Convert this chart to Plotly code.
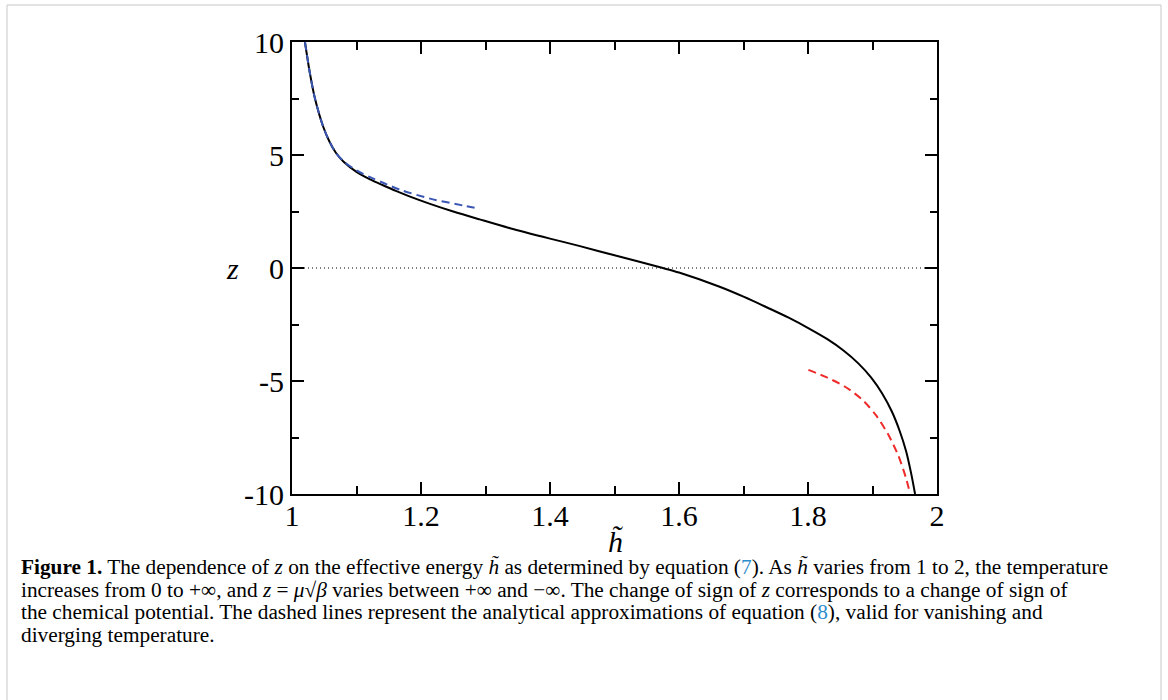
import plotly.graph_objects as go

# ---- data ----
h_exact = [1.0201, 1.0278, 1.0355, 1.0484, 1.058, 1.068, 1.08, 1.10, 1.121, 1.141,
           1.162, 1.182, 1.214, 1.25, 1.291, 1.338, 1.40, 1.445, 1.50, 1.575,
           1.60, 1.662, 1.70, 1.739, 1.77, 1.801, 1.83, 1.855, 1.878, 1.898,
           1.915, 1.93, 1.942, 1.952, 1.96, 1.966]
z_exact = [10.0, 8.61, 7.51, 6.25, 5.60, 5.10, 4.70, 4.25, 3.92, 3.66,
           3.40, 3.17, 2.84, 2.50, 2.15, 1.76, 1.30, 0.98, 0.56, 0.0,
           -0.20, -0.82, -1.27, -1.78, -2.20, -2.67, -3.15, -3.65, -4.22, -4.85,
           -5.55, -6.35, -7.20, -8.10, -9.10, -10.0]

h_low = [1.0201, 1.0278, 1.0355, 1.0484, 1.058, 1.068, 1.08, 1.10, 1.121, 1.142,
         1.167, 1.214, 1.266, 1.2914]
z_low = [10.0, 8.61, 7.51, 6.25, 5.60, 5.10, 4.72, 4.32, 4.02, 3.76,
         3.47, 3.07, 2.76, 2.62]

h_high = [1.8006, 1.83, 1.86, 1.885, 1.905, 1.924, 1.94, 1.952, 1.958]
z_high = [-4.51, -4.85, -5.30, -5.85, -6.50, -7.35, -8.30, -9.30, -9.95]

x_ticks = [1, 1.2, 1.4, 1.6, 1.8, 2]
x_ticktext = ["1", "1.2", "1.4", "1.6", "1.8", "2"]
y_ticks = [-10, -5, 0, 5, 10]
y_ticktext = ["-10", "-5", "0", "5", "10"]

caption_lines = [
    "<b>Figure 1.</b> The dependence of <i>z</i> on the effective energy <i>h̃</i> as determined by equation "
    "(<span style='color:#2b8ccc'>7</span>). As <i>h̃</i> varies from 1 to 2, the temperature",
    "increases from 0 to +∞, and <i>z</i> = <i>μ</i>√<i>β</i> varies between +∞ and −∞. "
    "The change of sign of <i>z</i> corresponds to a change of sign of",
    "the chemical potential. The dashed lines represent the analytical approximations of equation "
    "(<span style='color:#2b8ccc'>8</span>), valid for vanishing and",
    "diverging temperature.",
]

SERIF = "Liberation Serif, Times New Roman, serif"

fig = go.Figure()
fig.add_trace(go.Scatter(x=[1, 2], y=[0, 0], mode="lines",
                         line=dict(color="black", width=1, dash="1px,3px"),
                         hoverinfo="skip", showlegend=False))
fig.add_trace(go.Scatter(x=h_exact, y=z_exact, mode="lines",
                         line=dict(color="black", width=2, shape="spline", smoothing=0.8),
                         showlegend=False))
fig.add_trace(go.Scatter(x=h_low, y=z_low, mode="lines",
                         line=dict(color="#3a56b4", width=2, dash="8px,5px",
                                   shape="spline", smoothing=0.8),
                         showlegend=False))
fig.add_trace(go.Scatter(x=h_high, y=z_high, mode="lines",
                         line=dict(color="#ee2a2a", width=2, dash="8px,5px",
                                   shape="spline", smoothing=0.8),
                         showlegend=False))

L, R, T, B = 292, 937, 42, 494
W, H = 1168, 700
pw, ph = R - L, B - T

def px(x):
    return (x - L) / pw

def py(y):
    return (B - y) / ph

axis_common = dict(showgrid=False, zeroline=False, showline=True, linecolor="black",
                   linewidth=2, mirror="ticks", ticks="inside", ticklen=12,
                   tickwidth=2, tickcolor="black",
                   tickfont=dict(family=SERIF, size=30, color="black"))

fig.update_xaxes(range=[1, 2], tickvals=x_ticks, ticktext=x_ticktext,
                 ticklabelstandoff=-6,
                 minor=dict(dtick=0.1, tick0=1, ticks="inside", ticklen=8,
                            tickwidth=2, tickcolor="black"),
                 **axis_common)
fig.update_yaxes(range=[-10, 10], tickvals=y_ticks, ticktext=y_ticktext,
                 minor=dict(dtick=2.5, tick0=0, ticks="inside", ticklen=7,
                            tickwidth=2, tickcolor="black"),
                 **axis_common)

annotations = [
    dict(text="<i>z</i>", x=px(232), y=py(268), xref="paper", yref="paper",
         showarrow=False, font=dict(family=SERIF, size=30, color="black"),
         xanchor="center", yanchor="middle"),
    dict(text="<i>h̃</i>", x=px(615), y=py(541), xref="paper", yref="paper",
         showarrow=False, font=dict(family=SERIF, size=30, color="black"),
         xanchor="center", yanchor="middle"),
]
for i, line in enumerate(caption_lines):
    annotations.append(dict(text=line, x=px(19), y=py(567 + 22.6 * i),
                            xref="paper", yref="paper", showarrow=False,
                            align="left", xanchor="left", yanchor="middle",
                            font=dict(family=SERIF, size=21.3, color="black")))

shapes = [
    dict(type="rect", xref="paper", yref="paper",
         x0=px(7), x1=px(1161), y0=py(710), y1=py(5),
         line=dict(color="#c8c8c8", width=1), fillcolor="rgba(0,0,0,0)", layer="below"),
]

fig.update_layout(
    width=W, height=H,
    margin=dict(l=L, r=W - R, t=T, b=H - B),
    paper_bgcolor="white", plot_bgcolor="white",
    annotations=annotations, shapes=shapes,
    font=dict(family=SERIF, color="black"),
)

fig.write_html("out.html")
